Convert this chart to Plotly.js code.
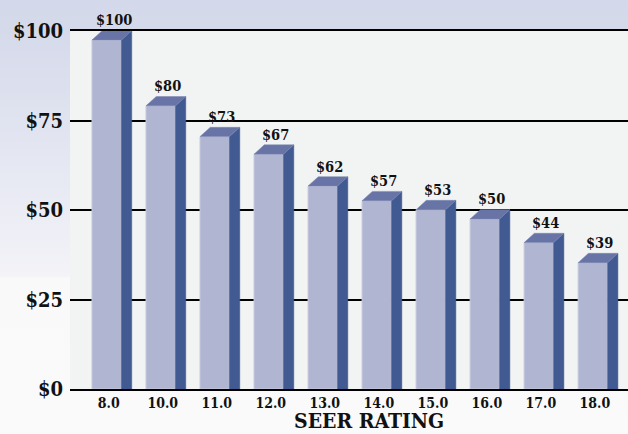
<!DOCTYPE html>
<html>
<head>
<meta charset="utf-8">
<script src="https://cdn.plot.ly/plotly-3.0.1.min.js"></script>
<style>
  html, body { margin: 0; padding: 0; background: #fafafa; }
  #chart {
    width: 628px; height: 434px;
    background: linear-gradient(to bottom, #d3d9ea 0px, #d5daeb 30px, #f3f3f8 276px, #f9f9f9 278px, #fafafa 100%);
  }
</style>
</head>
<body>
<div id="chart"></div>
<script>
// Categories (SEER rating) and prices
const seerLabels = ["8.0", "10.0", "11.0", "12.0", "13.0", "14.0", "15.0", "16.0", "17.0", "18.0"];
const priceLabels = [100, 80, 73, 67, 62, 57, 53, 50, 44, 39];
// Drawn heights of the bars' front faces
const barHeights = [97.5, 79.1, 70.5, 65.6, 56.7, 52.6, 50.1, 47.5, 40.9, 35.3];
const yTickVals = [0, 25, 50, 75, 100];
const yTickText = ["$0", "$25", "$50", "$75", "$100"];

// 3D-look geometry (in axis units)
const barW = 0.546;
const depthX = 0.19;
const depthY = 2.6;

const idx = seerLabels.map((_, i) => i);

const frontTrace = {
  type: 'bar',
  x: idx,
  y: barHeights,
  width: barW,
  marker: { color: '#b0b5d2', line: { color: '#c6c9de', width: 1 } },
  hoverinfo: 'skip',
  showlegend: false
};

const sideX = [], sideY = [], topX = [], topY = [];
idx.forEach((i) => {
  const v = barHeights[i];
  const xl = i - barW / 2, xr = i + barW / 2;
  sideX.push(xr, xr, xr + depthX, xr + depthX, xr, null);
  sideY.push(0, v, v + depthY, 0, 0, null);
  topX.push(xl, xl + depthX, xr + depthX, xr, xl, null);
  topY.push(v, v + depthY, v + depthY, v, v, null);
});

const sideTrace = {
  type: 'scatter', mode: 'lines', x: sideX, y: sideY,
  fill: 'toself', fillcolor: '#415a91',
  line: { color: '#415a91', width: 0.5 },
  hoverinfo: 'skip', showlegend: false
};
const topTrace = {
  type: 'scatter', mode: 'lines', x: topX, y: topY,
  fill: 'toself', fillcolor: '#6874a5',
  line: { color: '#7a86b2', width: 0.5 },
  hoverinfo: 'skip', showlegend: false
};

const serif = '"DejaVu Serif Condensed", "DejaVu Serif", serif';

const annotations = idx.map((i) => ({
  x: i + 0.13,
  y: barHeights[i],
  xref: 'x', yref: 'y',
  text: '$' + priceLabels[i],
  showarrow: false,
  yanchor: 'middle',
  yshift: 20,
  font: { family: serif, size: 14.5, color: '#111', weight: 'bold' }
}));
annotations.push({
  x: (369 - 70) / 558, y: -(434 - 389) / 358,
  xref: 'paper', yref: 'paper',
  xanchor: 'center', yanchor: 'bottom',
  borderpad: 0,
  text: 'SEER RATING', showarrow: false,
  font: { family: serif, size: 21, color: '#111', weight: 'bold' }
});

const layout = {
  width: 628, height: 434,
  margin: { l: 70, r: 0, t: 31, b: 45, pad: 0 },
  paper_bgcolor: 'rgba(0,0,0,0)',
  plot_bgcolor: '#f2f4f3',
  showlegend: false,
  xaxis: {
    range: [-0.68, 9.65],
    tickvals: idx,
    ticktext: seerLabels,
    ticks: '',
    showgrid: false,
    zeroline: false,
    showline: true, mirror: true, linecolor: '#000', linewidth: 2,
    ticklabelshift: 2,
    tickfont: { family: serif, size: 14, color: '#111', weight: 'bold' },
    fixedrange: true
  },
  yaxis: {
    range: [0, 100],
    tickvals: yTickVals,
    ticktext: yTickText,
    ticks: '',
    showgrid: true, gridcolor: '#000', gridwidth: 2,
    zeroline: false,
    showline: false,
    ticklabelstandoff: 6,
    tickfont: { family: serif, size: 20, color: '#111', weight: 'bold' },
    fixedrange: true
  },
  annotations: annotations
};

Plotly.newPlot('chart', [frontTrace, sideTrace, topTrace], layout, { displayModeBar: false, staticPlot: true });
</script>
</body>
</html>
